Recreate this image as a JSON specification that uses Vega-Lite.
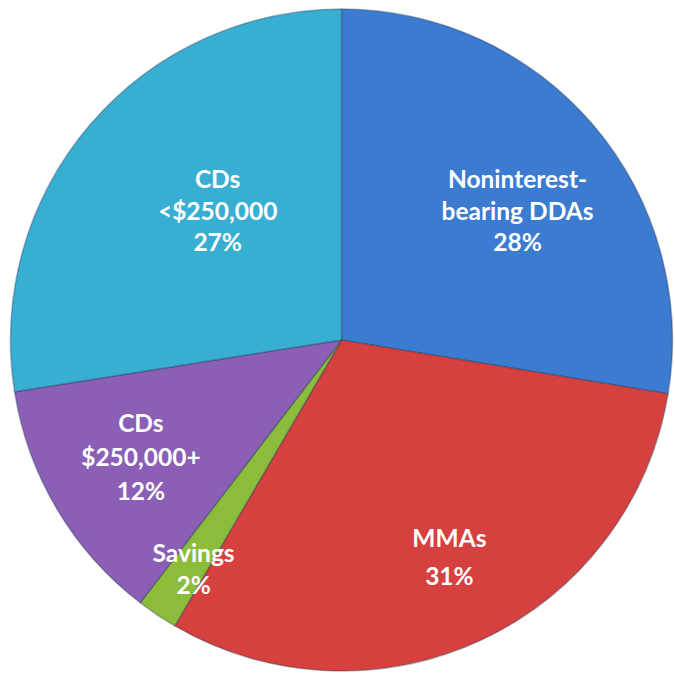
{
  "$schema": "https://vega.github.io/schema/vega-lite/v6.json",
  "width": 675,
  "height": 676,
  "autosize": {"type": "fit", "contains": "padding"},
  "padding": {"left": 8, "top": 4, "right": 0, "bottom": 0},
  "background": "#ffffff",
  "config": {"view": {"stroke": null}},
  "data": {
    "values": [
      {"rank": 1, "segment": "Noninterest-bearing DDAs", "value": 27.6, "label": ["Noninterest-", "bearing DDAs", "28%"]},
      {"rank": 2, "segment": "MMAs", "value": 30.8, "label": ["MMAs", "31%"]},
      {"rank": 3, "segment": "Savings", "value": 2.0, "label": ["Savings", "2%"]},
      {"rank": 4, "segment": "CDs $250,000+", "value": 12.1, "label": ["CDs", "$250,000+", "12%"]},
      {"rank": 5, "segment": "CDs <$250,000", "value": 27.5, "label": ["CDs", "<$250,000", "27%"]}
    ]
  },
  "transform": [
    {"stack": "value", "groupby": [], "sort": [{"field": "rank", "order": "ascending"}], "as": ["v0", "v1"]},
    {"calculate": "(datum.v0 + datum.v1) / 2", "as": "mid"}
  ],
  "layer": [
    {
      "mark": {"type": "arc", "radius": 331, "stroke": "#1f3550", "strokeOpacity": 0.35, "strokeWidth": 1.5},
      "encoding": {
        "theta": {"field": "v0", "type": "quantitative", "stack": null, "scale": {"domain": [0, 100]}},
        "theta2": {"field": "v1"},
        "color": {
          "field": "segment",
          "type": "nominal",
          "legend": null,
          "scale": {
            "domain": ["Noninterest-bearing DDAs", "MMAs", "Savings", "CDs $250,000+", "CDs <$250,000"],
            "range": ["#3b7bd0", "#d6403e", "#8bbd3a", "#8a5fb5", "#38afd2"]
          }
        }
      }
    },
    {
      "transform": [{"filter": "datum.rank == 1"}],
      "mark": {"type": "text", "radius": 202, "dx": 22, "dy": -28, "font": "Lato", "fontWeight": "bold", "fontSize": 24.5, "lineHeight": 31.5, "color": "#ffffff", "align": "center", "baseline": "middle"},
      "encoding": {"theta": {"field": "mid", "type": "quantitative", "stack": null, "scale": {"domain": [0, 100]}}, "text": {"field": "label"}}
    },
    {
      "transform": [{"filter": "datum.rank == 2"}],
      "mark": {"type": "text", "radius": 237, "dx": 7, "dy": -14, "font": "Lato", "fontWeight": "bold", "fontSize": 24.5, "lineHeight": 38, "color": "#ffffff", "align": "center", "baseline": "middle"},
      "encoding": {"theta": {"field": "mid", "type": "quantitative", "stack": null, "scale": {"domain": [0, 100]}}, "text": {"field": "label"}}
    },
    {
      "transform": [{"filter": "datum.rank == 3"}],
      "mark": {"type": "text", "radius": 271, "dx": 3, "dy": -10, "font": "Lato", "fontWeight": "bold", "fontSize": 24.5, "lineHeight": 32, "color": "#ffffff", "align": "center", "baseline": "middle"},
      "encoding": {"theta": {"field": "mid", "type": "quantitative", "stack": null, "scale": {"domain": [0, 100]}}, "text": {"field": "label"}}
    },
    {
      "transform": [{"filter": "datum.rank == 4"}],
      "mark": {"type": "text", "radius": 237, "dx": 3, "dy": -36, "font": "Lato", "fontWeight": "bold", "fontSize": 24.5, "lineHeight": 34, "color": "#ffffff", "align": "center", "baseline": "middle"},
      "encoding": {"theta": {"field": "mid", "type": "quantitative", "stack": null, "scale": {"domain": [0, 100]}}, "text": {"field": "label"}}
    },
    {
      "transform": [{"filter": "datum.rank == 5"}],
      "mark": {"type": "text", "radius": 180, "dx": 13, "dy": -42, "font": "Lato", "fontWeight": "bold", "fontSize": 24.5, "lineHeight": 31.5, "color": "#ffffff", "align": "center", "baseline": "middle"},
      "encoding": {"theta": {"field": "mid", "type": "quantitative", "stack": null, "scale": {"domain": [0, 100]}}, "text": {"field": "label"}}
    }
  ]
}
